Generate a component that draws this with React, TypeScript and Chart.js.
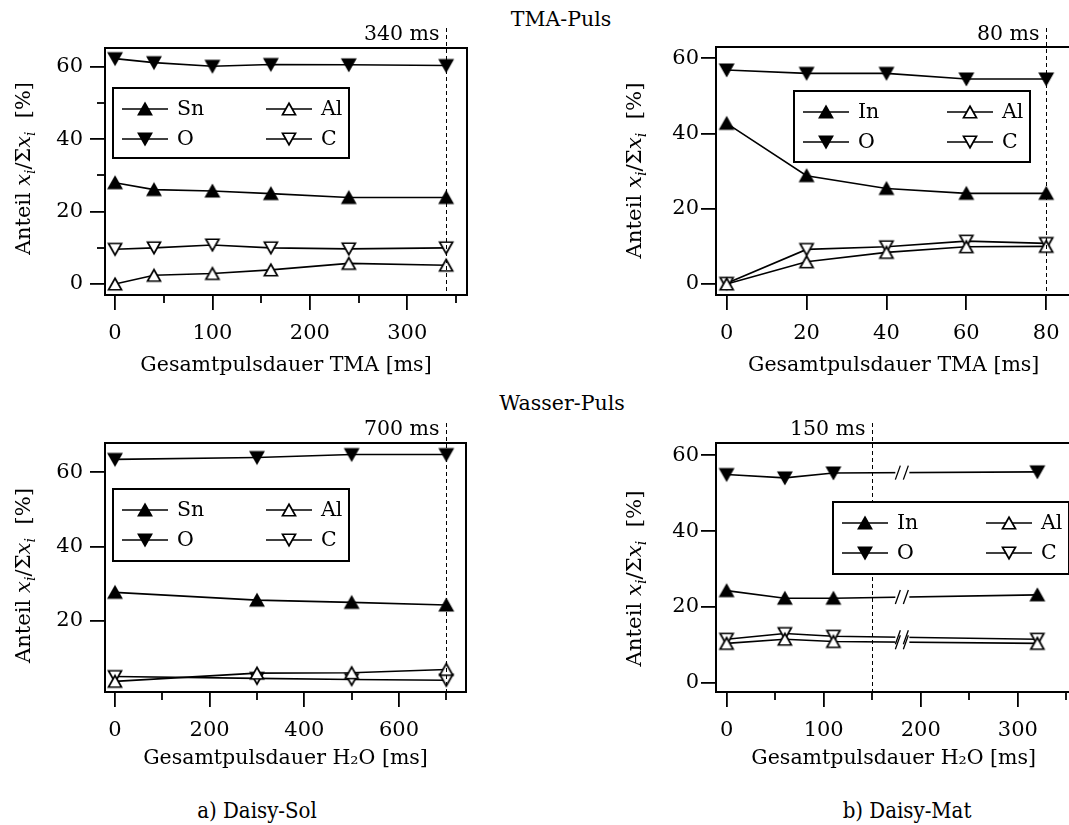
import React, { useEffect, useRef } from "react";
import { Chart, registerables } from "chart.js";

Chart.register(...registerables);

const FONT = "'DejaVu Serif', 'Liberation Serif', serif";
const CAPTION_FONT = "'DejaVu Serif Condensed', 'DejaVu Serif', serif";
const FS = 20.5;
const TICK_FS = 21;

// ----- a) Daisy-Sol, TMA pulse -----
const solTmaX = [0, 40, 100, 160, 240, 340];
const solTmaSn = [28.0, 26.1, 25.7, 25.0, 23.9, 23.9];
const solTmaO = [62.3, 61.2, 60.2, 60.7, 60.6, 60.4];
const solTmaAl = [0.0, 2.4, 2.9, 3.9, 5.7, 5.2];
const solTmaC = [9.6, 10.0, 10.8, 10.0, 9.7, 10.0];
const solTmaXTicks = [0, 100, 200, 300];
const solTmaXMinor = [50, 150, 250, 350];
const solTmaYTicks = [0, 20, 40, 60];
const solTmaYMinor = [10, 30, 50];

// ----- b) Daisy-Mat, TMA pulse -----
const matTmaX = [0, 20, 40, 60, 80];
const matTmaIn = [42.7, 28.8, 25.4, 24.1, 24.1];
const matTmaO = [56.9, 56.0, 56.0, 54.5, 54.5];
const matTmaAl = [0.0, 5.9, 8.4, 9.9, 10.0];
const matTmaC = [0.2, 9.2, 9.9, 11.4, 10.8];
const matTmaXTicks = [0, 20, 40, 60, 80];
const matTmaYTicks = [0, 20, 40, 60];

// ----- a) Daisy-Sol, H2O pulse -----
const solH2oX = [0, 300, 500, 700];
const solH2oSn = [27.7, 25.6, 25.0, 24.3];
const solH2oO = [63.4, 63.9, 64.7, 64.7];
const solH2oAl = [3.8, 6.0, 6.1, 7.0];
const solH2oC = [5.1, 4.6, 4.3, 4.1];
const solH2oXTicks = [0, 200, 400, 600];
const solH2oXMinor = [100, 300, 500, 700];
const solH2oYTicks = [20, 40, 60];

// ----- b) Daisy-Mat, H2O pulse -----
const matH2oX = [0, 60, 110, 320];
const matH2oIn = [24.3, 22.3, 22.3, 23.2];
const matH2oO = [54.9, 54.0, 55.3, 55.6];
const matH2oAl = [10.4, 11.5, 10.9, 10.4];
const matH2oC = [11.5, 13.0, 12.3, 11.5];
const matH2oXTicks = [0, 100, 200, 300];
const matH2oXMinor = [50, 150, 250, 350];
const matH2oYTicks = [0, 20, 40, 60];
const matH2oBreaks = [181];

const solNames = ["Sn", "O", "Al", "C"];
const matNames = ["In", "O", "Al", "C"];
const pulseLimitValues = [340, 80, 700, 150];
const pulseLimitLabels = ["340 ms", "80 ms", "700 ms", "150 ms"];
const xTitles = [
  "Gesamtpulsdauer TMA [ms]",
  "Gesamtpulsdauer TMA [ms]",
  "Gesamtpulsdauer H\u2082O [ms]",
  "Gesamtpulsdauer H\u2082O [ms]",
];
const rowTitles = ["TMA-Puls", "Wasser-Puls"];
const captions = ["a) Daisy-Sol", "b) Daisy-Mat"];

type Panel = {
  cx: number; cy: number; cw: number; ch: number;
  area: { l: number; t: number; r: number; b: number };
  xMin: number; xMax: number; yMin: number; yMax: number;
  xTicks: number[]; xMinor: number[]; yTicks: number[]; yMinor: number[];
  xs: number[]; series: number[][]; names: string[];
  xTitle: string; labelY: number; titleY: number; yLabelPad: number;
  mark: number; markLabel: string; markTop: number; markBase: number;
  legend: { l: number; t: number; w: number; h: number };
  yTitle: { x: number; y: number; len: number };
  breaks: number[];
};

const panels: Panel[] = [
  {
    cx: 0, cy: 0, cw: 535, ch: 390,
    area: { l: 105, t: 48, r: 467, b: 295 },
    xMin: -10.3, xMax: 361.4, yMin: -3.04, yMax: 65.25,
    xTicks: solTmaXTicks, xMinor: solTmaXMinor, yTicks: solTmaYTicks, yMinor: solTmaYMinor,
    xs: solTmaX, series: [solTmaSn, solTmaO, solTmaAl, solTmaC], names: solNames,
    xTitle: xTitles[0], labelY: 334, titleY: 366, yLabelPad: 7,
    mark: pulseLimitValues[0], markLabel: pulseLimitLabels[0], markTop: 28, markBase: 40,
    legend: { l: 113, t: 88, w: 236, h: 70 },
    yTitle: { x: 30, y: 168.5, len: 173 },
    breaks: [],
  },
  {
    cx: 535, cy: 0, cw: 545, ch: 390,
    area: { l: 716, t: 47, r: 1072, b: 295 },
    xMin: -2.675, xMax: 86.3, yMin: -2.92, yMax: 63.0,
    xTicks: matTmaXTicks, xMinor: [], yTicks: matTmaYTicks, yMinor: [],
    xs: matTmaX, series: [matTmaIn, matTmaO, matTmaAl, matTmaC], names: matNames,
    xTitle: xTitles[1], labelY: 334, titleY: 366, yLabelPad: 2,
    mark: pulseLimitValues[1], markLabel: pulseLimitLabels[1], markTop: 28, markBase: 40,
    legend: { l: 794, t: 91, w: 236, h: 71 },
    yTitle: { x: 641, y: 170.5, len: 176 },
    breaks: [],
  },
  {
    cx: 0, cy: 390, cw: 535, ch: 435,
    area: { l: 105, t: 443, r: 466, b: 692 },
    xMin: -21.1, xMax: 741.6, yMin: 0.94, yMax: 67.8,
    xTicks: solH2oXTicks, xMinor: solH2oXMinor, yTicks: solH2oYTicks, yMinor: [],
    xs: solH2oX, series: [solH2oSn, solH2oO, solH2oAl, solH2oC], names: solNames,
    xTitle: xTitles[2], labelY: 731, titleY: 759, yLabelPad: 7,
    mark: pulseLimitValues[2], markLabel: pulseLimitLabels[2], markTop: 423, markBase: 435,
    legend: { l: 113, t: 489, w: 236, h: 72 },
    yTitle: { x: 30, y: 575.5, len: 175 },
    breaks: [],
  },
  {
    cx: 535, cy: 390, cw: 545, ch: 435,
    area: { l: 716, t: 443, r: 1072, b: 692 },
    xMin: -10.9, xMax: 355.1, yMin: -2.4, yMax: 63.2,
    xTicks: matH2oXTicks, xMinor: matH2oXMinor, yTicks: matH2oYTicks, yMinor: [],
    xs: matH2oX, series: [matH2oIn, matH2oO, matH2oAl, matH2oC], names: matNames,
    xTitle: xTitles[3], labelY: 731, titleY: 759, yLabelPad: 2,
    mark: pulseLimitValues[3], markLabel: pulseLimitLabels[3], markTop: 423, markBase: 435,
    legend: { l: 833, t: 502, w: 236, h: 72 },
    yTitle: { x: 641, y: 578.5, len: 176 },
    breaks: matH2oBreaks,
  },
];

function makeTri(filled: boolean, down: boolean): HTMLCanvasElement {
  const c = document.createElement("canvas");
  const S = 22;
  c.width = S;
  c.height = S;
  const g = c.getContext("2d")!;
  const w = 13, h = 11.5;
  const cx = S / 2, cy = S / 2;
  g.beginPath();
  if (!down) {
    g.moveTo(cx, cy - h / 2);
    g.lineTo(cx + w / 2, cy + h / 2);
    g.lineTo(cx - w / 2, cy + h / 2);
  } else {
    g.moveTo(cx, cy + h / 2);
    g.lineTo(cx + w / 2, cy - h / 2);
    g.lineTo(cx - w / 2, cy - h / 2);
  }
  g.closePath();
  g.fillStyle = filled ? "#000" : "#fff";
  g.fill();
  g.lineWidth = 1.7;
  g.strokeStyle = "#000";
  g.stroke();
  return c;
}

function drawYTitle(ctx: CanvasRenderingContext2D, x: number, y: number, len: number) {
  const size = 21;
  const normal = `${size}px ${FONT}`;
  const ital = `italic ${size}px ${FONT}`;
  const sub = `italic 14px ${FONT}`;
  const segs = [
    { t: "Anteil ", f: normal, dy: 0 },
    { t: "x", f: ital, dy: 0 },
    { t: "i", f: sub, dy: 5 },
    { t: "/\u03A3", f: normal, dy: 0 },
    { t: "x", f: ital, dy: 0 },
    { t: "i", f: sub, dy: 5 },
    { t: "  [%]", f: normal, dy: 0 },
  ];
  ctx.save();
  ctx.translate(x, y);
  ctx.rotate(-Math.PI / 2);
  let total = 0;
  const widths = segs.map((s) => {
    ctx.font = s.f;
    const w = ctx.measureText(s.t).width;
    total += w;
    return w;
  });
  const k = len / total;
  ctx.scale(k, 1);
  let px = -total / 2;
  ctx.textBaseline = "alphabetic";
  ctx.textAlign = "left";
  ctx.fillStyle = "#000";
  segs.forEach((s, i) => {
    ctx.font = s.f;
    ctx.fillText(s.t, px, s.dy);
    px += widths[i];
  });
  ctx.restore();
}

function makeDecor(p: Panel, markers: HTMLCanvasElement[]) {
  return {
    id: "decor",
    afterDraw(chart: any) {
      const ctx: CanvasRenderingContext2D = chart.ctx;
      const a = chart.chartArea;
      const xs = chart.scales.x;
      const ys = chart.scales.y;
      const ox = p.cx, oy = p.cy;
      ctx.save();

      // axis breaks
      if (p.breaks.length) {
        const segs: { x: number; y: number }[] = [];
        p.breaks.forEach((bv) => {
          const bx = xs.getPixelForValue(bv);
          chart.data.datasets.forEach((_: any, i: number) => {
            const pts = chart.getDatasetMeta(i).data;
            for (let k = 0; k < pts.length - 1; k++) {
              const p0 = pts[k], p1 = pts[k + 1];
              if (p0.x <= bx && p1.x >= bx) {
                const t = (bx - p0.x) / (p1.x - p0.x);
                segs.push({ x: bx, y: p0.y + t * (p1.y - p0.y) });
              }
            }
          });
        });
        ctx.fillStyle = "#fff";
        segs.forEach((s) => ctx.fillRect(s.x - 7, s.y - 2.5, 14, 5));
        ctx.strokeStyle = "#000";
        ctx.lineWidth = 1.3;
        segs.forEach((s) => {
          ctx.beginPath();
          ctx.moveTo(s.x - 7, s.y + 7);
          ctx.lineTo(s.x - 2, s.y - 7);
          ctx.moveTo(s.x + 1, s.y + 7);
          ctx.lineTo(s.x + 6, s.y - 7);
          ctx.stroke();
        });
      }

      // dashed limit line
      const mx = Math.round(xs.getPixelForValue(p.mark)) + 0.5;
      ctx.strokeStyle = "#000";
      ctx.lineWidth = 1;
      ctx.setLineDash([4, 3]);
      ctx.beginPath();
      ctx.moveTo(mx, p.markTop - oy);
      ctx.lineTo(mx, a.bottom);
      ctx.stroke();
      ctx.setLineDash([]);
      ctx.font = `${FS}px ${FONT}`;
      ctx.textAlign = "right";
      ctx.textBaseline = "alphabetic";
      ctx.fillStyle = "#000";
      ctx.fillText(p.markLabel, mx - 7, p.markBase - oy);

      // legend
      const L = p.legend;
      const lx = L.l - ox, ly = L.t - oy;
      ctx.fillStyle = "#fff";
      ctx.fillRect(lx, ly, L.w, L.h);
      ctx.lineWidth = 2;
      ctx.strokeStyle = "#000";
      ctx.strokeRect(lx, ly, L.w, L.h);
      const cols = [9, 153];
      const rows = [21, 51];
      chart.data.datasets.forEach((ds: any, i: number) => {
        const c = cols[Math.floor(i / 2)];
        const r = rows[i % 2];
        const y = ly + r;
        ctx.strokeStyle = "#000";
        ctx.lineWidth = 1.6;
        ctx.beginPath();
        ctx.moveTo(lx + c, y);
        ctx.lineTo(lx + c + 46, y);
        ctx.stroke();
        const m = markers[i];
        ctx.drawImage(m, lx + c + 23 - m.width / 2, y - m.height / 2);
        ctx.fillStyle = "#000";
        ctx.font = `${FS}px ${FONT}`;
        ctx.textAlign = "left";
        ctx.textBaseline = "middle";
        ctx.fillText(ds.label, lx + c + 55, y + 1);
      });

      // frame
      ctx.strokeStyle = "#000";
      ctx.lineWidth = 2;
      ctx.strokeRect(a.left, a.top, a.right - a.left, a.bottom - a.top);

      // minor ticks
      ctx.lineWidth = 1.8;
      p.xMinor.forEach((v) => {
        const px = Math.round(xs.getPixelForValue(v));
        ctx.beginPath();
        ctx.moveTo(px, a.bottom);
        ctx.lineTo(px, a.bottom + 8);
        ctx.stroke();
      });
      p.yMinor.forEach((v) => {
        const py = Math.round(ys.getPixelForValue(v));
        ctx.beginPath();
        ctx.moveTo(a.left - 8, py);
        ctx.lineTo(a.left, py);
        ctx.stroke();
      });

      // y title
      drawYTitle(ctx, p.yTitle.x - ox, p.yTitle.y - oy, p.yTitle.len);
      ctx.restore();
    },
  };
}

function buildConfig(p: Panel): any {
  const markers = [makeTri(true, false), makeTri(true, true), makeTri(false, false), makeTri(false, true)];
  const XH = 90;
  const YW = p.area.l - p.cx;
  const font = { family: FONT, size: FS, lineHeight: 1.2 };
  const tickFont = { family: FONT, size: TICK_FS, lineHeight: 1.2 };
  const tickHalf = (TICK_FS * 1.2) / 2;
  const titleHalf = (FS * 1.2) / 2;
  return {
    type: "line",
    data: {
      datasets: p.series.map((vals, i) => ({
        label: p.names[i],
        data: p.xs.map((x, j) => ({ x, y: vals[j] })),
        borderColor: "#000",
        backgroundColor: "#000",
        borderWidth: 1.6,
        pointStyle: markers[i],
        pointRadius: 7,
        pointHoverRadius: 7,
        tension: 0,
        fill: false,
        clip: false,
      })),
    },
    options: {
      animation: false,
      responsive: false,
      maintainAspectRatio: false,
      events: [],
      layout: {
        padding: {
          left: 0,
          top: p.area.t - p.cy,
          right: p.cx + p.cw - p.area.r,
          bottom: p.cy + p.ch - p.area.b - XH,
        },
      },
      plugins: { legend: { display: false }, tooltip: { enabled: false }, title: { display: false } },
      scales: {
        x: {
          type: "linear",
          min: p.xMin,
          max: p.xMax,
          afterFit: (s: any) => { s.height = XH; },
          afterBuildTicks: (s: any) => { s.ticks = p.xTicks.map((v) => ({ value: v })); },
          grid: {
            display: true, drawOnChartArea: false, drawTicks: true, tickLength: 15,
            tickWidth: 1.8, tickColor: "#000", color: "#000", lineWidth: 1.8,
          },
          border: { display: false },
          ticks: {
            color: "#000", font: tickFont, padding: p.labelY - p.area.b - 15 - tickHalf,
            maxRotation: 0, minRotation: 0, autoSkip: false,
            callback: (v: any) => String(v),
          },
          title: {
            display: true, text: p.xTitle, color: "#000", font,
            padding: { top: 0, bottom: p.area.b + XH - p.titleY - titleHalf },
          },
        },
        y: {
          type: "linear",
          min: p.yMin,
          max: p.yMax,
          afterFit: (s: any) => { s.width = YW; },
          afterBuildTicks: (s: any) => { s.ticks = p.yTicks.map((v) => ({ value: v })); },
          grid: {
            display: true, drawOnChartArea: false, drawTicks: true, tickLength: 15,
            tickWidth: 1.8, tickColor: "#000", color: "#000", lineWidth: 1.8,
          },
          border: { display: false },
          ticks: {
            color: "#000", font: tickFont, padding: p.yLabelPad, autoSkip: false,
            callback: (v: any) => String(v),
          },
          title: { display: false },
        },
      },
    },
    plugins: [makeDecor(p, markers)],
  };
}

function PanelChart({ p }: { p: Panel }) {
  const ref = useRef<HTMLCanvasElement | null>(null);
  useEffect(() => {
    const chart = new Chart(ref.current as HTMLCanvasElement, buildConfig(p));
    return () => chart.destroy();
  }, [p]);
  return (
    <canvas
      ref={ref}
      width={p.cw}
      height={p.ch}
      style={{ position: "absolute", left: p.cx, top: p.cy, width: p.cw, height: p.ch }}
    />
  );
}

function Label({ text, cx, top, font, size }: { text: string; cx: number; top: number; font: string; size: number }) {
  return (
    <div
      style={{
        position: "absolute",
        left: cx - 200,
        top,
        width: 400,
        textAlign: "center",
        fontFamily: font,
        fontSize: size,
        lineHeight: `${size}px`,
        color: "#000",
        whiteSpace: "nowrap",
      }}
    >
      {text}
    </div>
  );
}

export default function App() {
  return (
    <div
      style={{
        position: "absolute",
        left: 0,
        top: 0,
        width: 1069,
        height: 825,
        overflow: "hidden",
        background: "#fff",
      }}
    >
      <Label text={rowTitles[0]} cx={561} top={9} font={FONT} size={FS} />
      <Label text={rowTitles[1]} cx={562} top={393} font={FONT} size={FS} />
      <Label text={captions[0]} cx={257} top={800} font={CAPTION_FONT} size={22} />
      <Label text={captions[1]} cx={907} top={800} font={CAPTION_FONT} size={22} />
      {panels.map((p, i) => (
        <PanelChart key={i} p={p} />
      ))}
    </div>
  );
}
